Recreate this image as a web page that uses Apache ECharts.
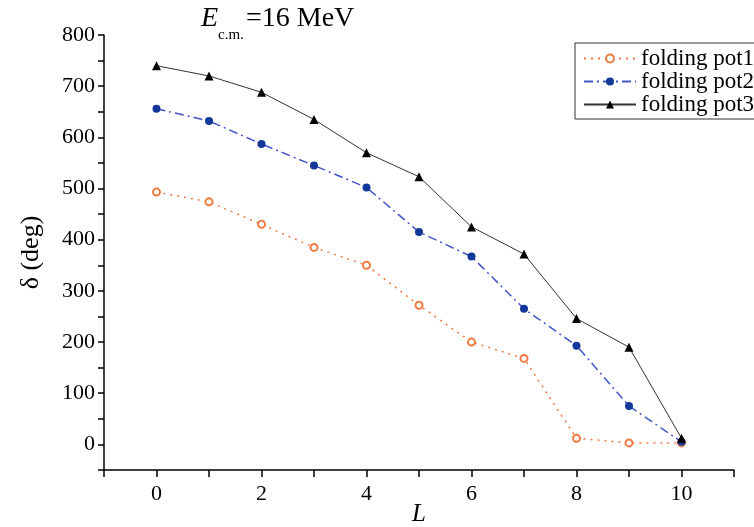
<!DOCTYPE html>
<html><head><meta charset="utf-8">
<script src="https://cdn.jsdelivr.net/npm/echarts@6/dist/echarts.min.js"></script>
<style>html,body{margin:0;padding:0;background:#fff}#c{width:754px;height:527px}</style>
</head><body><div id="c"></div>
<script>
const L = [0,1,2,3,4,5,6,7,8,9,10];
const pot1 = [493,474,430,385,350,272,200,168,12,3,3];
const pot2 = [656,632,587,545,502,415,367,265,193,75,5];
const pot3 = [740,720,688,635,570,523,425,372,246,190,12];
const seriesNames = ['folding pot1','folding pot2','folding pot3'];
const yTicks = [0,100,200,300,400,500,600,700,800];
const xTicks = [0,2,4,6,8,10];

const F = '"Liberation Serif", "DejaVu Serif", serif';
const chart = echarts.init(document.getElementById('c'));
const pairs = a => L.map((x,i)=>[x,a[i]]);
chart.setOption({
  animation:false,
  grid:{left:104, right:20, top:35, bottom:57, containLabel:false, outerBoundsMode:'none'},
  graphic:[
    {type:'text', left:201, top:5, style:{text:'E', font:'italic 28px '+F, fill:'#000'}},
    {type:'text', left:218, top:28, style:{text:'c.m.', font:'15px '+F, fill:'#000'}},
    {type:'text', left:246, top:5, style:{text:'=16 MeV', font:'28px '+F, fill:'#000'}}
  ],
  legend:{
    orient:'vertical', left:575, top:43,
    data:seriesNames,
    itemWidth:52, itemHeight:10, itemGap:0,
    borderColor:'#333', borderWidth:1, padding:[4,10,3,8],
    textStyle:{fontFamily:F, fontSize:23, color:'#000'}
  },
  xAxis:{
    type:'value', min:-1, max:11, interval:1,
    name:'L', nameLocation:'middle', nameGap:32, nameMoveOverlap:false,
    nameTextStyle:{fontFamily:F, fontSize:25, fontStyle:'italic', color:'#000'},
    axisLine:{onZero:false, lineStyle:{color:'#000', width:1.5}},
    axisTick:{length:7, lineStyle:{color:'#000', width:1.5}},
    splitLine:{show:false},
    axisLabel:{fontFamily:F, fontSize:22, color:'#000', margin:13,
      formatter:v=> xTicks.includes(v) ? String(v) : ''}
  },
  yAxis:{
    type:'value', min:-50, max:800, interval:50,
    name:'δ (deg)', nameLocation:'middle', nameGap:60, nameRotate:90, nameMoveOverlap:false,
    nameTextStyle:{fontFamily:F, fontSize:26, color:'#000'},
    axisLine:{show:true, onZero:false, lineStyle:{color:'#000', width:1.5}},
    axisTick:{show:true, length:6, lineStyle:{color:'#000', width:1.5}},
    splitLine:{show:false},
    axisLabel:{fontFamily:F, fontSize:22, color:'#000', margin:9,
      formatter:v=> yTicks.includes(v) ? String(v) : ''}
  },
  series:[
    {name:seriesNames[0], type:'line', data:pairs(pot1), symbol:'emptyCircle', symbolSize:7,
      itemStyle:{color:'#F07A45', borderWidth:1.2},
      lineStyle:{color:'#F07A45', width:1.5, type:[2,5]}},
    {name:seriesNames[1], type:'line', data:pairs(pot2), symbol:'circle', symbolSize:8,
      itemStyle:{color:'#13389A'},
      lineStyle:{color:'#4455C8', width:1.5, type:[9,4,2,4]}},
    {name:seriesNames[2], type:'line', data:pairs(pot3), symbol:'triangle', symbolSize:9,
      itemStyle:{color:'#000'},
      lineStyle:{color:'#333', width:1}}
  ]
});
</script></body></html>
